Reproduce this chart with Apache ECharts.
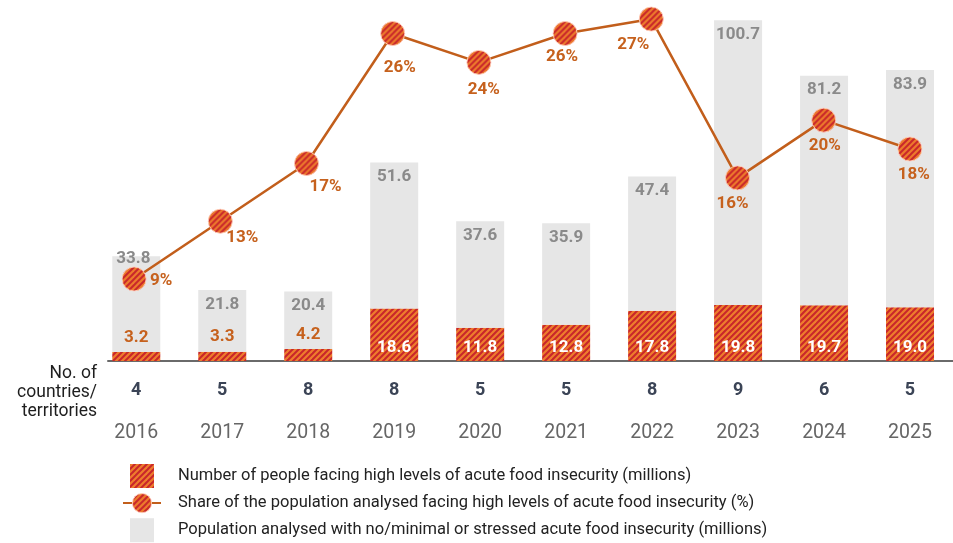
<!DOCTYPE html>
<html>
<head>
<meta charset="utf-8">
<script src="https://cdn.jsdelivr.net/npm/echarts@6/dist/echarts.min.js"></script>
<style>
  html, body { margin: 0; padding: 0; background: #ffffff; }
  #chart { width: 953px; height: 543px; }
</style>
</head>
<body>
<div id="chart"></div>
<script>
// ---- data ----
const years = ['2016', '2017', '2018', '2019', '2020', '2021', '2022', '2023', '2024', '2025'];
const countries = [4, 5, 8, 8, 5, 5, 8, 9, 6, 5];
const highInsecurity = [3.2, 3.3, 4.2, 18.6, 11.8, 12.8, 17.8, 19.8, 19.7, 19.0];
const otherAnalysed = [33.8, 21.8, 20.4, 51.6, 37.6, 35.9, 47.4, 100.7, 81.2, 83.9];
const sharePct = [9, 13, 17, 26, 24, 26, 27, 16, 20, 18];

const NAME_HIGH = 'Number of people facing high levels of acute food insecurity (millions)';
const NAME_SHARE = 'Share of the population analysed facing high levels of acute food insecurity (%)';
const NAME_OTHER = 'Population analysed with no/minimal or stressed acute food insecurity (millions)';

// ---- styling ----
const FONT = 'Roboto, "Liberation Sans", sans-serif';
const ORANGE_TEXT = '#c6611d';
const LINE_COLOR = '#c25e1b';
const GREY_BAR = '#e6e6e6';
const GREY_TEXT = '#8a8a8a';
const MARKER_SIZE = 24;

// percentage label placement around each marker [dx, dy]
const shareLabelOffsets = [[27, 2], [22, 17], [19, 23], [7, 34], [5, 27], [-3, 23], [-18, 26], [-5, 26], [1, 26], [4, 26]];

// diagonal orange/red stripe tile
function stripeCanvas() {
  const s = 12, p = 6;
  const c = document.createElement('canvas');
  c.width = s; c.height = s;
  const ctx = c.getContext('2d');
  ctx.fillStyle = '#ee7d2d';
  ctx.fillRect(0, 0, s, s);
  ctx.strokeStyle = '#c8262b';
  ctx.lineWidth = 2.0;
  for (let k = -2 * s; k <= 3 * s; k += p) {
    ctx.beginPath();
    ctx.moveTo(k + 2, -2);
    ctx.lineTo(k - s - 2, s + 2);
    ctx.stroke();
  }
  return c;
}
const STRIPE_TILE = stripeCanvas();
const STRIPES = { image: STRIPE_TILE, repeat: 'repeat' };
// line symbols are drawn on a unit path scaled by half the symbol size,
// so the fill pattern is shrunk by the same factor to keep stripes at screen scale
const MARKER_STRIPES = {
  image: STRIPE_TILE, repeat: 'repeat',
  scaleX: 2 / MARKER_SIZE, scaleY: 2 / MARKER_SIZE
};

const chart = echarts.init(document.getElementById('chart'), null, { renderer: 'canvas' });

const highData = highInsecurity.map((v, i) => {
  const small = i < 3;
  return {
    value: v,
    label: small
      ? { position: 'top', distance: 6, color: ORANGE_TEXT }
      : { position: 'insideBottom', distance: 5, color: '#ffffff' }
  };
});

const otherData = otherAnalysed.map((v, i) => {
  const item = { value: v };
  if (i === 0) item.label = { offset: [-3, -12] };
  return item;
});

const shareData = sharePct.map((v, i) => ({
  value: v,
  label: { offset: shareLabelOffsets[i] }
}));

const SQUARE = 'path://M0 0H10V10H0Z';

const option = {
  animation: false,
  backgroundColor: '#ffffff',
  textStyle: { fontFamily: FONT },
  grid: [
    { left: 93.3, width: 873.3, top: 0, height: 361 },
    { left: 91, width: 880, top: 0, height: 361 },
    { left: 108, right: 0, top: 0, height: 361 }
  ],
  xAxis: [
    {
      type: 'category', gridIndex: 0, data: years,
      axisLine: { show: false }, axisTick: { show: false },
      axisLabel: {
        margin: 9,
        interval: 0,
        formatter: (value, index) => '{c|' + countries[index] + '}\n{y|' + value + '}',
        rich: {
          c: { fontFamily: FONT, fontSize: 18, fontWeight: 'bold', color: '#3b4456', lineHeight: 40 },
          y: { fontFamily: FONT, fontSize: 19.5, color: '#666666', lineHeight: 46 }
        }
      }
    },
    { type: 'category', gridIndex: 1, data: years, show: false },
    {
      type: 'value', gridIndex: 2, min: 0, max: 1,
      axisLine: { show: true, lineStyle: { color: '#6a6a6a', width: 2 } },
      axisTick: { show: false }, axisLabel: { show: false }, splitLine: { show: false }
    }
  ],
  yAxis: [
    { type: 'value', gridIndex: 0, min: 0, max: 127.65, show: false, splitLine: { show: false } },
    { type: 'value', gridIndex: 1, min: 3.32, max: 28.32, show: false, splitLine: { show: false } },
    { type: 'value', gridIndex: 2, min: 0, max: 1, show: false, splitLine: { show: false } }
  ],
  legend: {
    orient: 'vertical', left: 122, top: 464, height: 100,
    padding: 0,
    itemWidth: 38, itemHeight: 24, itemGap: 5,
    selectedMode: false,
    textStyle: { fontFamily: FONT, fontSize: 16.5, color: '#222222', padding: [0, 0, 0, 12] },
    data: [
      { name: NAME_HIGH, icon: SQUARE },
      { name: NAME_SHARE, itemStyle: { color: STRIPES, borderColor: 'rgba(255,205,185,0.9)', borderWidth: 1 } },
      { name: NAME_OTHER, icon: SQUARE }
    ]
  },
  graphic: [
    {
      type: 'text', x: 97, y: 364,
      style: {
        text: 'No. of\ncountries/\nterritories',
        align: 'right', verticalAlign: 'top',
        fontFamily: FONT, fontSize: 17.5, lineHeight: 19, fill: '#1e1e1e'
      }
    }
  ],
  series: [
    {
      name: NAME_HIGH, type: 'bar', stack: 'total',
      xAxisIndex: 0, yAxisIndex: 0,
      barWidth: 48,
      itemStyle: { color: STRIPES },
      label: {
        show: true, fontFamily: FONT, fontSize: 17, fontWeight: 'bold',
        formatter: (p) => p.value.toFixed(1)
      },
      data: highData,
      z: 2
    },
    {
      name: NAME_OTHER, type: 'bar', stack: 'total',
      xAxisIndex: 0, yAxisIndex: 0,
      barWidth: 48,
      itemStyle: { color: GREY_BAR },
      label: {
        show: true, position: 'insideTop', distance: 6,
        fontFamily: FONT, fontSize: 17, fontWeight: 'bold', color: GREY_TEXT,
        formatter: (p) => p.value.toFixed(1)
      },
      data: otherData,
      z: 2
    },
    {
      name: NAME_SHARE, type: 'line',
      xAxisIndex: 1, yAxisIndex: 1,
      clip: false,
      symbol: 'circle', symbolSize: MARKER_SIZE,
      lineStyle: { color: LINE_COLOR, width: 2.5 },
      itemStyle: { color: MARKER_STRIPES, borderColor: 'rgba(255,205,185,0.9)', borderWidth: 1 },
      label: {
        show: true, position: 'inside',
        fontFamily: FONT, fontSize: 17, fontWeight: 'bold', color: ORANGE_TEXT,
        formatter: (p) => p.value + '%'
      },
      data: shareData,
      z: 5
    }
  ]
};

chart.setOption(option);
</script>
</body>
</html>
